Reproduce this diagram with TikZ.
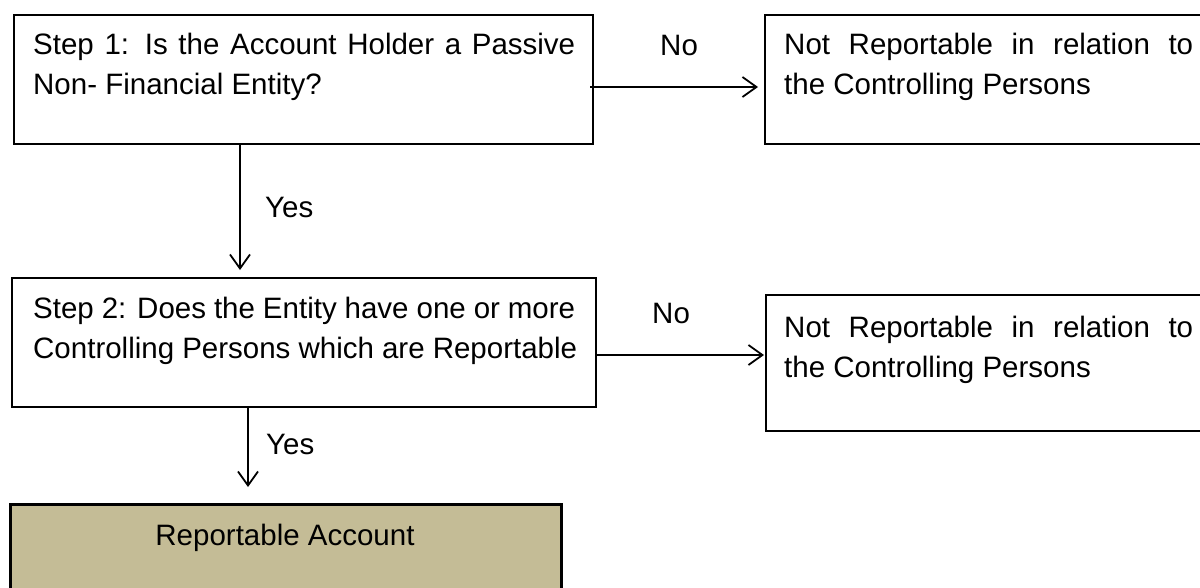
\documentclass[tikz,border=0pt]{standalone}
\usepackage{fontspec}
\setmainfont{Liberation Sans}
\usetikzlibrary{arrows.meta}
\definecolor{tanfill}{RGB}{196,188,150}
\begin{document}
\begin{tikzpicture}[x=1pt,y=-1pt,
  box/.style={draw=black, line width=1.8pt, rectangle, anchor=north west, inner sep=0pt, outer sep=0pt},
  repbox/.style={box, fill=tanfill, line width=3pt},
  txt/.style={anchor=base west, inner sep=0pt, font=\fontsize{29.5}{40}\selectfont},
  ctxt/.style={txt, anchor=base},
  conn/.style={line width=1.8pt, -{Straight Barb[length=14pt,width=20pt,line width=1.8pt]}},
]
\useasboundingbox (0,0) rectangle (1200,587);
\clip (0,0) rectangle (1200,587);
% boxes
\node[box, minimum width=579pt, minimum height=129pt] (b1) at (14,15) {};
\node[box, minimum width=500pt, minimum height=129pt] (nr1) at (765,15) {};
\node[box, minimum width=584pt, minimum height=129pt] (b2) at (12,278) {};
\node[box, minimum width=500pt, minimum height=136pt] (nr2) at (766,295) {};
\node[repbox, minimum width=551pt, minimum height=120pt] (rep) at (10,504) {};
% texts
\node[txt] (t1a) at (33,54) {\makebox[542pt][s]{Step 1: Is the Account Holder a Passive}};
\node[txt] (t1b) at (33,94) {Non- Financial Entity?};
\node[txt] (t2a) at (33,318) {\makebox[542pt][s]{Step 2: Does the Entity have one or more}};
\node[txt] (t2b) at (33,358) {\makebox[544pt][s]{Controlling Persons which are Reportable}};
\node[txt] (nr1a) at (784,54) {\makebox[409pt][s]{Not Reportable in relation to}};
\node[txt] (nr1b) at (784,94) {the Controlling Persons};
\node[txt] (nr2a) at (784,337) {\makebox[409pt][s]{Not Reportable in relation to}};
\node[txt] (nr2b) at (784,377) {the Controlling Persons};
\node[ctxt] (rept) at (285,545) {Reportable Account};
\node[txt] (no1) at (660,55) {No};
\node[txt] (no2) at (652,323) {No};
\node[txt] (yes1) at (265,217) {Yes};
\node[txt] (yes2) at (266,454) {Yes};
% connectors
\draw[conn] ([xshift=-3pt,yshift=-72pt]b1.north east) -- ([xshift=-7pt,yshift=-72pt]nr1.north west);
\draw[conn] ([yshift=-77pt]b2.north east) -- ([xshift=-2pt,yshift=-60pt]nr2.north west);
\draw[conn] ([xshift=226pt]b1.south west) -- ([xshift=228pt,yshift=8pt]b2.north west);
\draw[conn] ([xshift=236pt]b2.south west) -- ([xshift=238pt,yshift=17pt]rep.north west);
\end{tikzpicture}
\end{document}
